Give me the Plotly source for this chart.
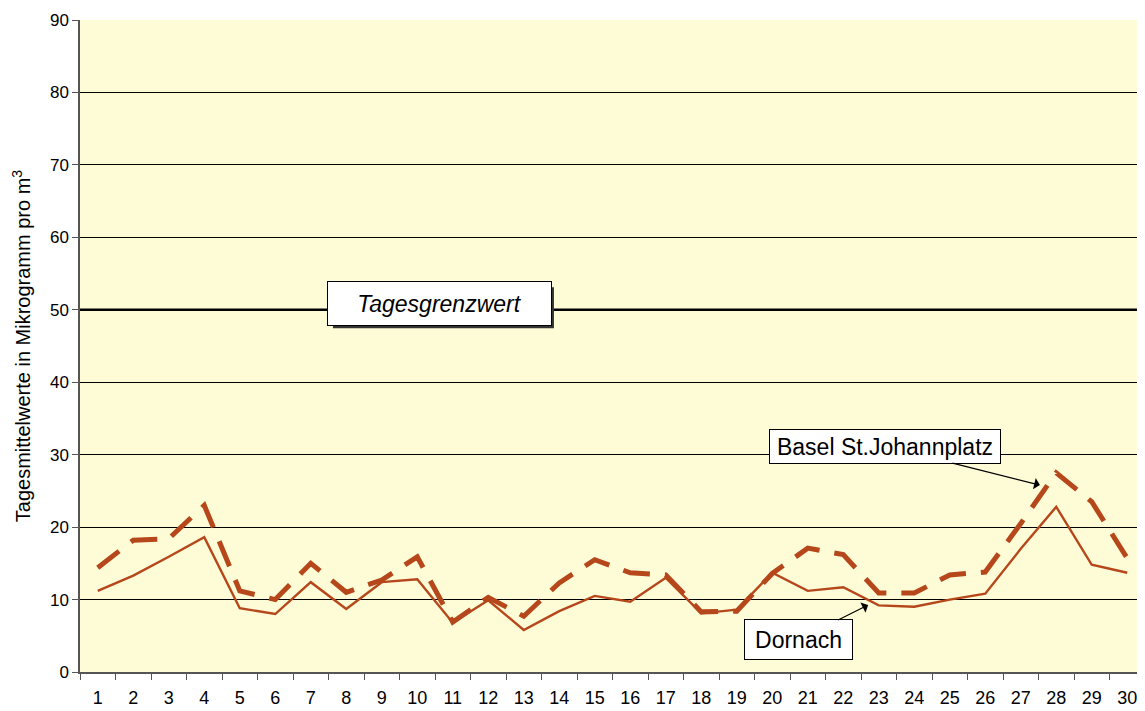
import plotly.graph_objects as go

# Days of the month
days = [str(d) for d in range(1, 31)]

# Daily means (µg/m³)
basel = [14.4, 18.2, 18.4, 23.0, 11.2, 10.0, 15.0, 11.0, 12.7, 15.9,
         6.9, 10.3, 7.7, 12.3, 15.5, 13.7, 13.4, 8.3, 8.4, 13.6,
         17.1, 16.2, 10.9, 10.9, 13.4, 13.8, 20.5, 27.5, 23.5, 15.7]
dornach = [11.2, 13.3, 15.9, 18.6, 8.8, 8.0, 12.4, 8.7, 12.4, 12.8,
           6.8, 9.9, 5.8, 8.4, 10.5, 9.7, 13.0, 8.1, 8.6, 13.7,
           11.2, 11.7, 9.2, 9.0, 10.0, 10.8, 17.0, 22.8, 14.8, 13.7]
limit_value = 50

line_color = "#B5471B"
font_family = "Liberation Sans, Arial, sans-serif"

fig = go.Figure()

# daily limit across the whole plot width
fig.add_hline(y=limit_value, line=dict(color="black", width=2.5), layer="below")

fig.add_trace(go.Scatter(x=days, y=basel, mode="lines", name="Basel St.Johannplatz",
                         line=dict(color=line_color, width=5, dash="27px,15px"),
                         showlegend=False))
fig.add_trace(go.Scatter(x=days, y=dornach, mode="lines", name="Dornach",
                         line=dict(color=line_color, width=2.4), showlegend=False))

# drop shadow behind the limit label (pixel-sized box anchored at the label position)
label_x = 0.3375
fig.add_shape(type="rect", xref="paper", yref="y", xsizemode="pixel", ysizemode="pixel",
              xanchor=label_x, yanchor=limit_value, x0=-106.5, x1=114.5, y0=-18.5, y1=22.5,
              fillcolor="#333333", line=dict(width=0), layer="above")
fig.add_annotation(x=label_x, xref="paper", y=limit_value, yref="y", text="<i>Tagesgrenzwert</i>",
                   showarrow=False, font=dict(family=font_family, size=23, color="black"),
                   bgcolor="white", bordercolor="black", borderwidth=1, width=221, height=41,
                   yshift=6)

fig.add_annotation(x=26.54, y=25.8, text="Basel St.Johannplatz", showarrow=True,
                   ax=-155, ay=-39, arrowhead=1, arrowsize=1.6, arrowwidth=1.2,
                   arrowcolor="black", font=dict(family=font_family, size=23, color="black"),
                   bgcolor="white", bordercolor="black", borderwidth=1,
                   width=228, height=31)
fig.add_annotation(x=21.7, y=9.25, text="Dornach", showarrow=True,
                   ax=-70, ay=35, arrowhead=1, arrowsize=1.6, arrowwidth=1.2,
                   arrowcolor="black", font=dict(family=font_family, size=23, color="black"),
                   bgcolor="white", bordercolor="black", borderwidth=1,
                   width=105, height=37)

# the page body adds an 8px offset, so the figure is 8px smaller and margins shifted
fig.update_layout(
    width=1137, height=703,
    margin=dict(l=72, r=0, t=12, b=39),
    paper_bgcolor="white",
    plot_bgcolor="#FEFBD7",
    font=dict(family=font_family, size=17, color="black"),
    xaxis=dict(type="category", range=[-0.5, 29.5], tickson="boundaries",
               ticks="outside", ticklen=6, tickcolor="#555555", automargin=False,
               showgrid=False, showline=True, linecolor="#555555", linewidth=1.5,
               tickfont=dict(size=18), ticklabelstandoff=9),
    yaxis=dict(range=[0, 90], dtick=10, ticks="outside", ticklen=6, tickcolor="#555555",
               showgrid=True, gridcolor="black", gridwidth=1, zeroline=False,
               showline=True, linecolor="#555555", linewidth=1.5, automargin=False,
               tickfont=dict(size=17),
               title=dict(text="Tagesmittelwerte in Mikrogramm pro m<sup>3</sup>",
                          font=dict(size=20), standoff=14)),
)

fig.write_html("out.html")
